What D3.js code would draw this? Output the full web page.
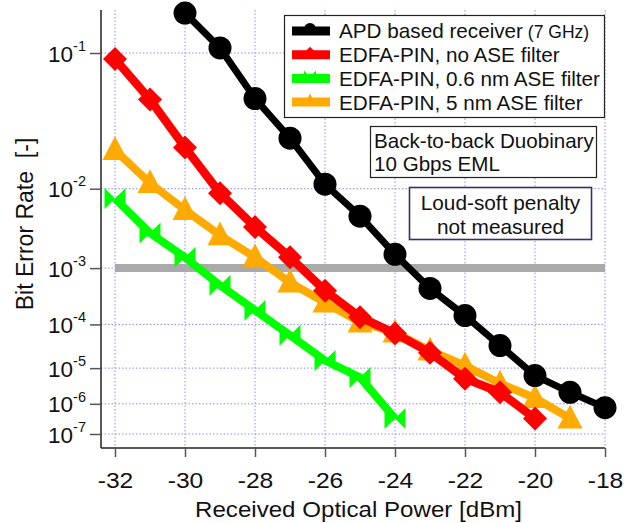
<!DOCTYPE html>
<html>
<head>
<meta charset="utf-8">
<script src="https://cdn.jsdelivr.net/npm/d3@7"></script>
<style>
  body { margin: 0; background: #fff; }
  svg { font-family: "Liberation Sans", Arial, sans-serif; }
</style>
</head>
<body>
<div id="chart"></div>
<script>
// Received power [dBm] and bit error rate for each receiver
const apdPower = [-30, -29, -28, -27, -26, -25, -24, -23, -22, -21, -20, -19, -18];
const apdBer = [0.153, 0.106, 0.0547, 0.0285, 0.0111, 0.0050, 1.6e-3, 4.7e-4, 1.5e-4, 3.5e-5, 6.4e-6, 2.2e-6, 7.6e-7];

const noFiltPower = [-32, -31, -30, -29, -28, -27, -26, -25, -24, -23, -22, -21, -20];
const noFiltBer = [0.093, 0.054, 0.024, 0.009, 0.0037, 1.45e-3, 4.3e-4, 1.4e-4, 6.5e-5, 2.4e-5, 5.3e-6, 2.2e-6, 3.4e-7];

const filt06Power = [-32, -31, -30, -29, -28, -27, -26, -25, -24];
const filt06Ber = [0.0079, 0.0031, 1.45e-3, 5.3e-4, 1.9e-4, 5.9e-5, 1.55e-5, 5.7e-6, 3.4e-7];

const filt5Power = [-32, -31, -30, -29, -28, -27, -26, -25, -24, -23, -22, -21, -20, -19];
const filt5Ber = [0.0228, 0.0114, 0.0059, 0.0029, 1.45e-3, 5.9e-4, 2.65e-4, 1.1e-4, 6.8e-5, 2.7e-5, 1.16e-5, 3.9e-6, 1.5e-6, 3.4e-7];

const xTicks = [-32, -30, -28, -26, -24, -22, -20, -18];
const yTickExp = [1, 2, 3, 4, 5, 6, 7];   // BER = 10^-n
const threshold = 1e-3;

const legendLabels = ["APD based receiver", "EDFA-PIN, no ASE filter", "EDFA-PIN, 0.6 nm ASE filter", "EDFA-PIN, 5 nm ASE filter"];

// plot settings
const w = 634, h = 523;
const padLeft = 101, padRight = 605, padTop = 10, padBottom = 448;

const svg = d3.select("#chart").append("svg")
  .attr("width", w).attr("height", h);

// x: linear in dBm
const xScale = d3.scaleLinear().domain([-32, -18]).range([115, 605]);
const xMin = xScale.invert(padLeft);
xScale.domain([xMin, -18]).range([padLeft, padRight]);

// y: BER scale, log of -log10(BER)
const yScale = d3.scaleLog().domain([1, 7]).range([53, 434]);
const q = (ber) => -Math.log10(ber);
const yb = (ber) => yScale(q(ber));

// grid
const gridColor = "#8c8cf0";
svg.append("g").selectAll("line").data(xTicks).enter().append("line")
  .attr("x1", d => xScale(d)).attr("x2", d => xScale(d))
  .attr("y1", padTop).attr("y2", padBottom)
  .attr("stroke", gridColor).attr("stroke-width", 1)
  .attr("stroke-dasharray", "1.5,2");
svg.append("g").selectAll("line").data(yTickExp).enter().append("line")
  .attr("x1", padLeft).attr("x2", padRight)
  .attr("y1", d => yScale(d)).attr("y2", d => yScale(d))
  .attr("stroke", gridColor).attr("stroke-width", 1)
  .attr("stroke-dasharray", "1.5,2");

// threshold line
svg.append("line")
  .attr("x1", xScale(-32)).attr("x2", xScale(-18))
  .attr("y1", yb(threshold)).attr("y2", yb(threshold))
  .attr("stroke", "#aaaaaa").attr("stroke-width", 8);

// axes
const xAxis = d3.axisBottom(xScale).tickValues(xTicks).tickSize(9).tickPadding(15)
  .tickFormat(d => d);
const gx = svg.append("g").attr("transform", "translate(0," + padBottom + ")").call(xAxis);
gx.select(".domain").attr("d", "M" + padLeft + ",0H" + padRight).attr("stroke", "#222").attr("stroke-width", 1.5);
gx.selectAll(".tick line").attr("stroke", "#555").attr("stroke-width", 1.5);
gx.selectAll(".tick text").attr("font-size", 22).attr("fill", "#111")
  .attr("font-family", "Liberation Sans, Arial, sans-serif")
  .attr("transform", "scale(1.12,1)");

const yAxis = d3.axisLeft(yScale).tickValues(yTickExp).tickSize(11).tickFormat("");
const gy = svg.append("g").attr("transform", "translate(" + padLeft + ",0)").call(yAxis);
gy.select(".domain").attr("d", "M0," + padTop + "V" + padBottom).attr("stroke", "#222").attr("stroke-width", 1.5);
gy.selectAll(".tick line").attr("stroke", "#555").attr("stroke-width", 1.5);
const yt = gy.selectAll(".tick").append("text")
  .attr("x", -15).attr("y", 0).attr("dy", "0.36em")
  .attr("text-anchor", "end").attr("fill", "#111")
  .attr("font-family", "Liberation Sans, Arial, sans-serif")
  .attr("font-size", 22.5);
yt.append("tspan").text("10");
yt.append("tspan").attr("font-size", 14.5).attr("dy", "-0.75em").text(d => "-" + d);

// axis labels
svg.append("text")
  .attr("x", 195).attr("y", 517)
  .attr("font-size", 22.5).attr("fill", "#111")
  .attr("textLength", 327).attr("lengthAdjust", "spacingAndGlyphs")
  .text("Received Optical Power [dBm]");
svg.append("text")
  .attr("transform", "translate(33,224) rotate(-90)")
  .attr("text-anchor", "middle").attr("font-size", 23).attr("fill", "#111")
  .attr("xml:space", "preserve")
  .text("Bit Error Rate  [-]");

// markers
const markers = {
  circle: (s) => d3.symbol(d3.symbolCircle, Math.PI * s * s)(),
  diamond: (s) => "M0," + (-s) + "L" + s + ",0L0," + s + "L" + (-s) + ",0Z",
  bowtie: (s) => "M" + (-s) + "," + (-s) + "L" + s + "," + s + "L" + s + "," + (-s) + "L" + (-s) + "," + s + "Z",
  triangle: (s) => "M0," + (-s * 1.1) + "L" + s + "," + (s * 0.8) + "L" + (-s) + "," + (s * 0.8) + "Z"
};

const series = [
  { power: filt06Power, ber: filt06Ber, color: "#00ff00", width: 8, marker: "bowtie", size: 10.5 },
  { power: filt5Power, ber: filt5Ber, color: "#ffaa00", width: 8, marker: "triangle", size: 12.5 },
  { power: noFiltPower, ber: noFiltBer, color: "#ff0000", width: 8.5, marker: "diamond", size: 12 },
  { power: apdPower, ber: apdBer, color: "#000000", width: 7, marker: "circle", size: 11.5 }
];

const line = d3.line().x(d => xScale(d[0])).y(d => yb(d[1]));

series.forEach(function (s) {
  const pts = s.power.map((p, i) => [p, s.ber[i]]);
  svg.append("path")
    .attr("d", line(pts))
    .attr("fill", "none").attr("stroke", s.color)
    .attr("stroke-width", s.width).attr("stroke-linejoin", "round");
  svg.append("g").selectAll("path").data(pts).enter().append("path")
    .attr("transform", d => "translate(" + xScale(d[0]) + "," + yb(d[1]) + ")")
    .attr("d", markers[s.marker](s.size))
    .attr("fill", s.color);
});

// legend
const legend = svg.append("g");
legend.append("rect")
  .attr("x", 284.5).attr("y", 15.5).attr("width", 320).attr("height", 102)
  .attr("fill", "#fff").attr("stroke", "#222").attr("stroke-width", 1.2);
const legendOrder = [3, 2, 0, 1];
legendOrder.forEach(function (si, i) {
  const s = series[si];
  const cy = 31 + i * 23.7;
  legend.append("line")
    .attr("x1", 292).attr("x2", 330).attr("y1", cy).attr("y2", cy)
    .attr("stroke", s.color).attr("stroke-width", 9);
  legend.append("path")
    .attr("transform", "translate(310," + (cy - 2) + ")")
    .attr("d", markers[s.marker](6))
    .attr("fill", s.color);
  const t = legend.append("text")
    .attr("x", 339).attr("y", cy).attr("dy", "0.36em")
    .attr("font-size", 20.7).attr("fill", "#111")
    .text(legendLabels[i]);
  if (i === 0) t.append("tspan").attr("font-size", 17.5).text(" (7 GHz)");
});

// annotation boxes
svg.append("rect")
  .attr("x", 370.5).attr("y", 126.5).attr("width", 226).attr("height", 51)
  .attr("fill", "#fff").attr("stroke", "#222").attr("stroke-width", 1.2);
svg.append("text").attr("x", 374).attr("y", 148).attr("font-size", 20.6).attr("fill", "#111")
  .text("Back-to-back Duobinary");
svg.append("text").attr("x", 374).attr("y", 171).attr("font-size", 20.6).attr("fill", "#111")
  .text("10 Gbps EML");

svg.append("rect")
  .attr("x", 409.5).attr("y", 187.5).attr("width", 182).attr("height", 52)
  .attr("fill", "#fff").attr("stroke", "#3b2d6b").attr("stroke-width", 1.6);
svg.append("text").attr("x", 500.5).attr("y", 209.5).attr("text-anchor", "middle")
  .attr("font-size", 20.8).attr("fill", "#111").text("Loud-soft penalty");
svg.append("text").attr("x", 500.5).attr("y", 234).attr("text-anchor", "middle")
  .attr("font-size", 20.8).attr("fill", "#111").text("not measured");
</script>
</body>
</html>
